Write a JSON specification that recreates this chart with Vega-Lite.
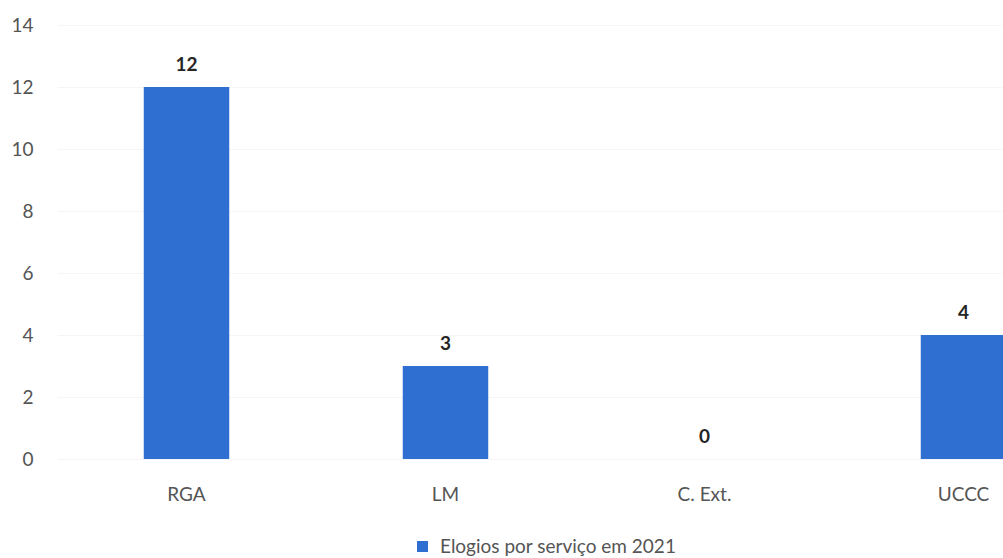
{
  "$schema": "https://vega.github.io/schema/vega-lite/v6.json",
  "autosize": "none",
  "width": 946,
  "height": 434,
  "padding": {"left": 57, "top": 25, "right": 0, "bottom": 99},
  "background": "white",
  "config": {
    "view": {"stroke": null},
    "font": "Lato"
  },
  "data": {
    "values": [
      {"servico": "RGA", "elogios": 12},
      {"servico": "LM", "elogios": 3},
      {"servico": "C. Ext.", "elogios": 0},
      {"servico": "UCCC", "elogios": 4}
    ]
  },
  "encoding": {
    "x": {
      "field": "servico",
      "type": "nominal",
      "sort": null,
      "scale": {"range": [0, 1036], "paddingInner": 0.67, "paddingOuter": 0.335},
      "axis": {
        "title": null,
        "labelAngle": 0,
        "domain": false,
        "ticks": false,
        "labelBaseline": "alphabetic",
        "labelPadding": 41,
        "labelFontSize": 19,
        "labelColor": "#555555",
        "labelFont": "Lato"
      }
    },
    "y": {
      "field": "elogios",
      "type": "quantitative",
      "scale": {"domain": [0, 14]},
      "axis": {
        "title": null,
        "values": [0, 2, 4, 6, 8, 10, 12, 14],
        "domain": false,
        "ticks": false,
        "labelPadding": 24,
        "labelFontSize": 19,
        "labelColor": "#555555",
        "labelFont": "Lato",
        "grid": true,
        "gridColor": "#f5f5f5"
      }
    }
  },
  "layer": [
    {
      "mark": {"type": "bar"},
      "encoding": {
        "color": {
          "datum": "Elogios por serviço em 2021",
          "scale": {"range": ["#2f6fd1"]},
          "legend": {
            "title": null,
            "orient": "none",
            "legendX": 356,
            "legendY": 512,
            "symbolType": "square",
            "symbolSize": 121,
            "labelFontSize": 19,
            "labelColor": "#555555",
            "labelFont": "Lato",
            "labelOffset": 8,
            "labelLimit": 0
          }
        }
      }
    },
    {
      "mark": {
        "type": "text",
        "dy": -16,
        "fontWeight": "bold",
        "fontSize": 19,
        "color": "#262626",
        "baseline": "alphabetic"
      },
      "encoding": {
        "text": {"field": "elogios", "type": "quantitative"}
      }
    }
  ]
}
